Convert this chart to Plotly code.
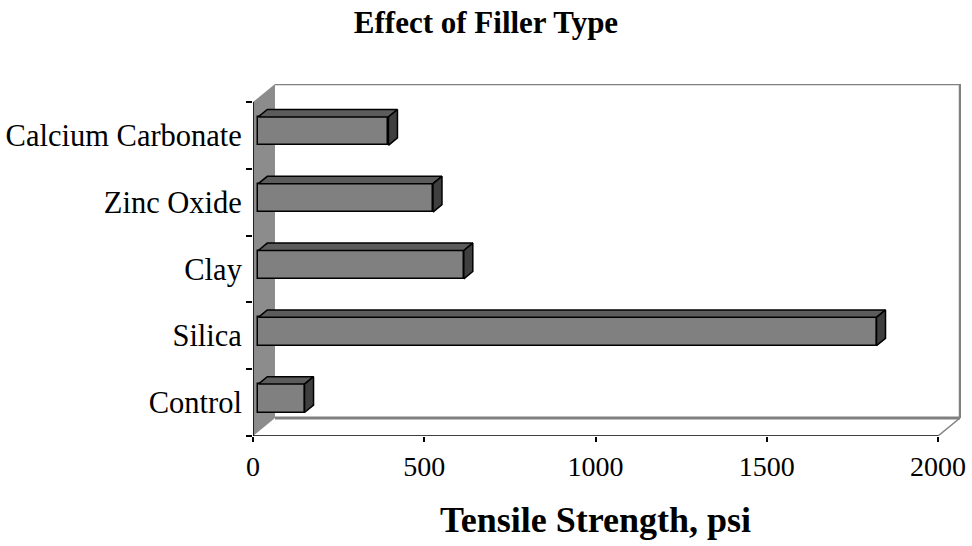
import plotly.graph_objects as go

# ---- data ----
categories = ["Control", "Silica", "Clay", "Zinc Oxide", "Calcium Carbonate"]
tensile_psi = [135, 1805, 600, 510, 380]
x_ticks = [0, 500, 1000, 1500, 2000]

# ---- page / plot geometry (pixels) ----
W, H = 972, 546
ML, MR, MT, MB = 253, 11, 84, 110
plot_w = W - ML - MR
plot_h = H - MT - MB
AXIS_MAX = 2000
axis_len_px = 685            # length of the front value axis
cat_px = 334 / len(categories)

px_per_x = axis_len_px / AXIS_MAX
x_max = plot_w / px_per_x
y_min = -0.5
y_max = y_min + plot_h / cat_px


def dx(px):
    return px / px_per_x


def dy(px):
    return px / cat_px


# depth offsets of the 3-D box and the bars (pixels: right, up)
WALL = (dx(22), dy(18))
BAR_FRONT = (dx(5.3), dy(4.3))
BAR_BACK = (dx(14.3), dy(11.7))
HALF = dy(14.2)

FONT = "Liberation Serif"
FRONT_COL = "#808080"
TOP_COL = "#5c5c5c"
SIDE_COL = "#3f3f3f"
WALL_COL = "#8c8c8c"
EDGE = dict(color="black", width=1.5)

fig = go.Figure()

# bar top and end faces (drawn behind the front faces)
for i, v in enumerate(tensile_psi):
    top = i + HALF + BAR_FRONT[1]
    bot = i - HALF + BAR_FRONT[1]
    rise = BAR_BACK[1] - BAR_FRONT[1]
    fig.add_trace(go.Scatter(
        x=[BAR_FRONT[0], v + BAR_FRONT[0], v + BAR_BACK[0], BAR_BACK[0], BAR_FRONT[0]],
        y=[top, top, top + rise, top + rise, top],
        mode="lines", fill="toself", fillcolor=TOP_COL, line=EDGE,
        hoverinfo="skip", showlegend=False))
    fig.add_trace(go.Scatter(
        x=[v + BAR_FRONT[0], v + BAR_FRONT[0], v + BAR_BACK[0], v + BAR_BACK[0], v + BAR_FRONT[0]],
        y=[bot, top, top + rise, bot + rise, bot],
        mode="lines", fill="toself", fillcolor=SIDE_COL, line=EDGE,
        hoverinfo="skip", showlegend=False))

# front faces
fig.add_trace(go.Bar(
    orientation="h",
    x=tensile_psi,
    y=[i + BAR_FRONT[1] for i in range(len(categories))],
    base=BAR_FRONT[0],
    width=2 * HALF,
    marker=dict(color=FRONT_COL, line=EDGE),
    hoverinfo="x", showlegend=False))

# 3-D box: side wall, back wall, floor
n = len(categories)
y_top_front = y_min + n
shapes = [
    dict(type="path", layer="below", xref="x", yref="y",
         path=f"M0,{y_min} L0,{y_top_front} L{WALL[0]},{y_top_front + WALL[1]} "
              f"L{WALL[0]},{y_min + WALL[1]} Z",
         fillcolor=WALL_COL, line=dict(width=0)),
    # back wall top and right edges
    dict(type="path", layer="below", xref="x", yref="y",
         path=f"M{WALL[0]},{y_top_front + WALL[1]} L{AXIS_MAX + WALL[0]},{y_top_front + WALL[1]} "
              f"L{AXIS_MAX + WALL[0]},{y_min + WALL[1]}",
         line=dict(color="#808080", width=2.5)),
    # floor back edge and right edge
    dict(type="line", layer="below", xref="x", yref="y",
         x0=WALL[0], x1=AXIS_MAX + WALL[0], y0=y_min + WALL[1], y1=y_min + WALL[1],
         line=dict(color="#808080", width=3)),
    dict(type="line", layer="below", xref="x", yref="y",
         x0=AXIS_MAX, x1=AXIS_MAX + WALL[0], y0=y_min, y1=y_min + WALL[1],
         line=dict(color="#808080", width=1.5)),
    # front axis lines
    dict(type="line", layer="above", xref="x", yref="y",
         x0=0, x1=AXIS_MAX, y0=y_min, y1=y_min,
         line=dict(color="black", width=1.5)),
    dict(type="line", layer="above", xref="x", yref="y",
         x0=0, x1=0, y0=y_min, y1=y_top_front,
         line=dict(color="black", width=1.5)),
]

fig.update_layout(
    width=W, height=H,
    margin=dict(l=ML, r=MR, t=MT, b=MB, pad=0, autoexpand=False),
    paper_bgcolor="white", plot_bgcolor="white",
    shapes=shapes,
    bargap=0,
    title=dict(text="<b>Effect of Filler Type</b>", x=0.5, xanchor="center",
               xref="container", y=1 - 22 / H, yref="container", yanchor="middle",
               font=dict(family=FONT, size=31, color="black")),
    xaxis=dict(range=[0, x_max], showgrid=False, zeroline=False, showline=False,
               automargin=False,
               tickmode="array", tickvals=x_ticks, ticktext=[str(t) for t in x_ticks],
               ticks="outside", ticklen=5, tickwidth=1.5, tickcolor="black",
               tickfont=dict(family=FONT, size=28, color="black"),
               fixedrange=True),
    yaxis=dict(range=[y_min, y_max], showgrid=False, zeroline=False, showline=False,
               automargin=False,
               tickmode="array", tickvals=list(range(n)), ticktext=categories,
               ticks="outside", ticklen=4, tickcolor="rgba(0,0,0,0)",
               tickfont=dict(family=FONT, size=30.5, color="black"),
               minor=dict(tickmode="array", tickvals=[y_min + k for k in range(n + 1)],
                          ticks="outside", ticklen=6, tickwidth=1.5, tickcolor="black",
                          showgrid=False),
               fixedrange=True),
    annotations=[dict(text="<b>Tensile Strength, psi</b>", xref="x", yref="paper",
                      x=AXIS_MAX / 2, y=-(520 - (H - MB)) / plot_h, yanchor="middle",
                      showarrow=False, font=dict(family=FONT, size=36, color="black"))],
)

fig.write_html("out.html")
